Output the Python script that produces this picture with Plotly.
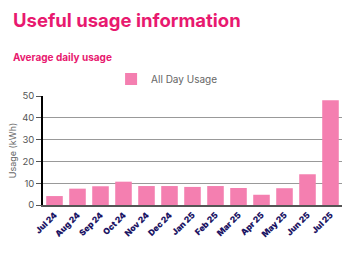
import plotly.graph_objects as go

months = ["Jul 24", "Aug 24", "Sep 24", "Oct 24", "Nov 24", "Dec 24", "Jan 25",
          "Feb 25", "Mar 25", "Apr 25", "May 25", "Jun 25", "Jul 25"]
usage = [4.1, 7.5, 8.6, 10.7, 8.7, 8.7, 8.3, 8.7, 7.8, 4.7, 7.7, 14.1, 48.0]
y_ticks = [0, 10, 20, 30, 40, 50]

PINK = "#E8196F"
BAR = "#F47FB0"

fig = go.Figure()
fig.add_trace(go.Bar(x=months, y=usage, name="All Day Usage", marker_color=BAR,
                     marker_line_width=0, showlegend=True))

fig.update_layout(
    width=359, height=254,
    margin=dict(l=36, r=17, t=96, b=49),
    paper_bgcolor="white", plot_bgcolor="white",
    bargap=0.28,
    font=dict(family="Inter, sans-serif"),
    showlegend=True,
    legend=dict(orientation="h", x=0.415, xanchor="center", y=1 + (96-79)/109, yanchor="middle",
                font=dict(size=10, color="#666666")),
    xaxis=dict(tickangle=-45, tickfont=dict(size=8.5, color="#1B1464", family="Inter Black, Inter, sans-serif"),
               showline=True, linecolor="#555555", linewidth=1.5, ticks="", showgrid=False),
    yaxis=dict(range=[0, 50], tickvals=y_ticks, tickfont=dict(size=9.5, color="#555555", family="Inter, sans-serif"),
               showline=True, linecolor="black", linewidth=1.5,
               showgrid=True, gridcolor="#999999", gridwidth=1.3, zeroline=False,
               ticks="outside", ticklen=5, tickcolor="#555555",
               title=dict(text="Usage (kWh)", font=dict(size=9, color="#666666"), standoff=4)),
    annotations=[
        dict(text="<b>Useful usage information</b>", xref="paper", yref="paper",
             x=-33/306, y=1 + (96-20)/109, xanchor="left", yanchor="middle", showarrow=False,
             font=dict(size=18.5, color=PINK, family="Inter, sans-serif")),
        dict(text="<b>Average daily usage</b>", xref="paper", yref="paper",
             x=-33/306, y=1 + (96-58)/109, xanchor="left", yanchor="middle", showarrow=False,
             font=dict(size=10, color=PINK, family="Inter, sans-serif")),
    ],
)

fig.write_html("out.html")
